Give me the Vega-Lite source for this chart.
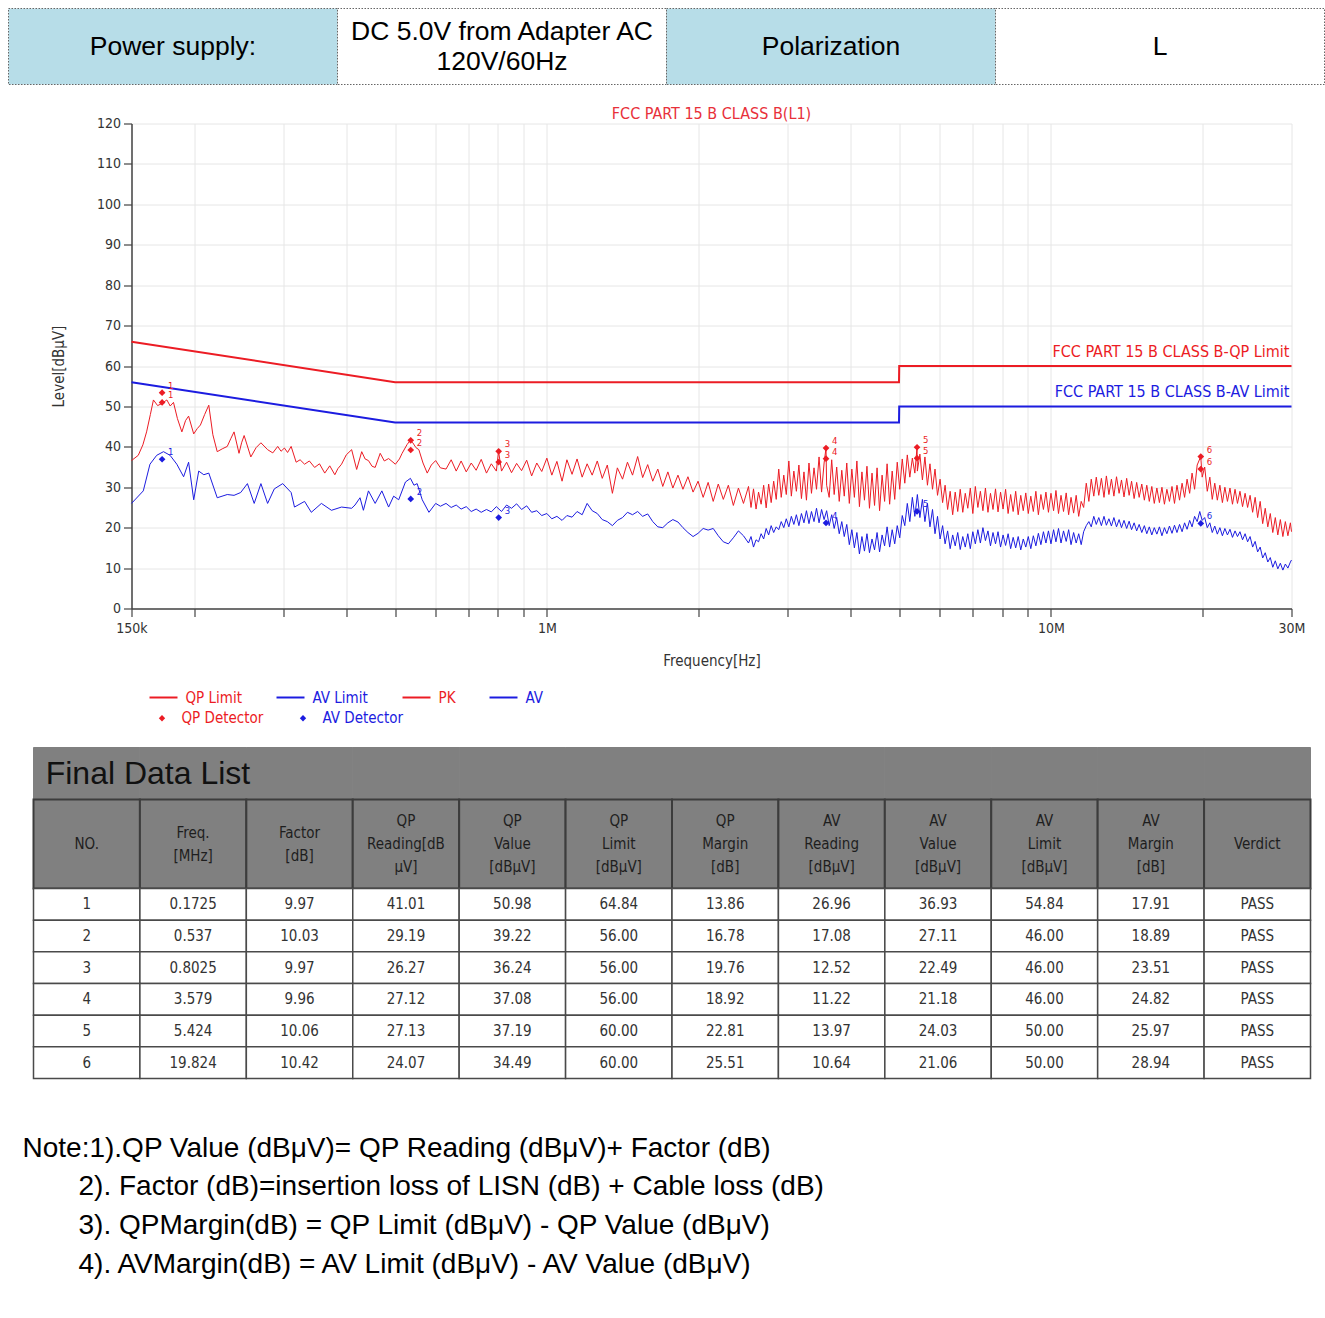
{
  "$schema": "https://vega.github.io/schema/vega-lite/v6.json",
  "padding": {"left": 7.5, "top": 7.5, "right": 0, "bottom": 0},
  "background": "white",
  "spacing": 20,
  "resolve": {"scale": {"fill": "independent", "color": "independent"}, "legend": {"fill": "independent", "color": "independent"}},
  "config": {
    "view": {"stroke": null},
    "font": "DejaVu Sans Condensed, Liberation Sans, sans-serif",
    "axis": {"labelFontSize": 14, "labelColor": "#333", "titleFontSize": 15, "titleFontWeight": "normal", "titleColor": "#333", "domainColor": "#444", "tickColor": "#444", "gridColor": "#e6e6e6", "domainWidth": 1.5, "tickWidth": 1.2}
  },
  "datasets": {
    "header": [
      {"cell": "c1", "kind": "label", "t": "Power supply:"},
      {"cell": "c2", "kind": "value", "t": "DC 5.0V from Adapter AC\n120V/60Hz"},
      {"cell": "c3", "kind": "label", "t": "Polarization"},
      {"cell": "c4", "kind": "value", "t": "L"}
    ],
    "limits": [
      {"f": 0.15, "v": 66, "s": "QP Limit"}, {"f": 0.5, "v": 56, "s": "QP Limit"}, {"f": 4.995, "v": 56, "s": "QP Limit"}, {"f": 5.0, "v": 60, "s": "QP Limit"}, {"f": 30, "v": 60, "s": "QP Limit"},
      {"f": 0.15, "v": 56, "s": "AV Limit"}, {"f": 0.5, "v": 46, "s": "AV Limit"}, {"f": 4.995, "v": 46, "s": "AV Limit"}, {"f": 5.0, "v": 50, "s": "AV Limit"}, {"f": 30, "v": 50, "s": "AV Limit"}
    ],
    "limitLabels": [
      {"f": 30, "v": 60, "s": "QP Limit", "t": "FCC PART 15 B CLASS B-QP Limit"},
      {"f": 30, "v": 50, "s": "AV Limit", "t": "FCC PART 15 B CLASS B-AV Limit"}
    ],
    "pk": [
      {"f":0.150,"v":36.6},{"f":0.1547,"v":37.9},{"f":0.158,"v":40.5},{"f":0.1607,"v":43.7},{"f":0.1635,"v":48.0},{"f":0.1658,"v":51.6},{"f":0.169,"v":50.2},{"f":0.1722,"v":50.7},{"f":0.1763,"v":51.6},{"f":0.179,"v":50.1},{"f":0.1817,"v":51.0},{"f":0.185,"v":47.0},{"f":0.1888,"v":43.7},{"f":0.192,"v":46.5},{"f":0.1947,"v":47.6},{"f":0.1993,"v":43.2},{"f":0.2025,"v":44.5},{"f":0.2055,"v":45.4},{"f":0.2095,"v":48.0},{"f":0.2135,"v":50.3},{"f":0.2175,"v":43.0},{"f":0.2219,"v":38.8},{"f":0.227,"v":39.5},{"f":0.2323,"v":40.1},{"f":0.236,"v":42.0},{"f":0.2396,"v":43.7},{"f":0.2451,"v":38.4},{"f":0.248,"v":41.0},{"f":0.2509,"v":42.8},{"f":0.2587,"v":37.5},{"f":0.265,"v":39.8},{"f":0.2709,"v":41.0},{"f":0.2793,"v":39.3},{"f":0.286,"v":38.5},{"f":0.2925,"v":40.1},{"f":0.297,"v":38.9},{"f":0.3016,"v":39.7},{"f":0.306,"v":38.6},{"f":0.311,"v":40.1},{"f":0.3182,"v":36.2},{"f":0.324,"v":36.8},{"f":0.3307,"v":35.7},{"f":0.338,"v":36.5},{"f":0.3462,"v":34.9},{"f":0.354,"v":35.8},{"f":0.3626,"v":33.5},{"f":0.371,"v":35.3},{"f":0.3797,"v":33.1},{"f":0.385,"v":34.6},{"f":0.3915,"v":35.7},{"f":0.4,"v":38.0},{"f":0.41,"v":39.3},{"f":0.4195,"v":34.4},{"f":0.4293,"v":38.8},{"f":0.436,"v":37.0},{"f":0.4427,"v":36.6},{"f":0.45,"v":35.2},{"f":0.4565,"v":34.9},{"f":0.4671,"v":38.4},{"f":0.476,"v":36.5},{"f":0.4854,"v":37.1},{"f":0.5007,"v":35.7},{"f":0.51,"v":37.0},{"f":0.5163,"v":38.4},{"f":0.5283,"v":40.6},{"f":0.536,"v":41.6},{"f":0.5421,"v":41.0},{"f":0.55,"v":39.8},{"f":0.5573,"v":39.3},{"f":0.568,"v":36.0},{"f":0.5791,"v":33.5},{"f":0.59,"v":35.5},{"f":0.6018,"v":36.6},{"f":0.615,"v":34.8},
      {"f":0.631,"v":34.5},{"f":0.646,"v":36.8},{"f":0.661,"v":34.0},{"f":0.676,"v":36.5},{"f":0.692,"v":33.8},{"f":0.708,"v":36.0},{"f":0.724,"v":34.2},{"f":0.741,"v":36.9},{"f":0.759,"v":33.5},{"f":0.776,"v":35.8},{"f":0.794,"v":34.0},{"f":0.802,"v":38.9},{"f":0.813,"v":34.0},{"f":0.832,"v":36.2},{"f":0.851,"v":33.6},{"f":0.871,"v":35.9},{"f":0.891,"v":34.1},{"f":0.912,"v":36.7},{"f":0.933,"v":32.8},{"f":0.955,"v":36.0},{"f":0.977,"v":33.9},
      {"f":1.000,"v":37.2},{"f":1.023,"v":33.0},{"f":1.047,"v":36.4},{"f":1.072,"v":31.5},{"f":1.096,"v":36.8},{"f":1.122,"v":33.2},{"f":1.148,"v":37.0},{"f":1.175,"v":32.5},{"f":1.202,"v":35.8},{"f":1.230,"v":33.0},{"f":1.259,"v":36.5},{"f":1.288,"v":32.2},{"f":1.318,"v":35.5},{"f":1.349,"v":28.5},{"f":1.380,"v":34.8},{"f":1.413,"v":32.0},{"f":1.445,"v":36.2},{"f":1.479,"v":33.0},{"f":1.514,"v":37.6},{"f":1.549,"v":32.4},{"f":1.585,"v":35.6},{"f":1.622,"v":31.5},{"f":1.660,"v":34.5},{"f":1.698,"v":30.2},{"f":1.738,"v":33.8},{"f":1.778,"v":29.8},{"f":1.820,"v":33.0},{"f":1.862,"v":29.5},{"f":1.905,"v":32.6},{"f":1.950,"v":28.8},{"f":1.995,"v":31.5},
      {"f":2.042,"v":27.5},{"f":2.089,"v":31.2},{"f":2.138,"v":26.5},{"f":2.188,"v":30.8},{"f":2.239,"v":27.0},{"f":2.291,"v":30.5},{"f":2.344,"v":25.5},{"f":2.399,"v":29.8},{"f":2.455,"v":26.0},
      {"f":2.512,"v":30.2},{"f":2.541,"v":25.0},{"f":2.570,"v":29.6},{"f":2.600,"v":24.6},{"f":2.630,"v":28.8},{"f":2.661,"v":25.8},{"f":2.692,"v":30.5},{"f":2.723,"v":24.9},{"f":2.754,"v":30.8},{"f":2.786,"v":26.2},{"f":2.818,"v":31.5},{"f":2.851,"v":27.0},{"f":2.884,"v":34.5},{"f":2.917,"v":27.5},{"f":2.951,"v":33.0},{"f":2.985,"v":28.2},
      {"f":3.020,"v":36.5},{"f":3.055,"v":27.8},{"f":3.090,"v":34.0},{"f":3.126,"v":29.0},{"f":3.162,"v":35.5},{"f":3.199,"v":27.2},{"f":3.236,"v":33.8},{"f":3.273,"v":26.8},{"f":3.311,"v":36.0},{"f":3.349,"v":28.5},{"f":3.388,"v":34.8},{"f":3.427,"v":29.5},{"f":3.467,"v":37.5},{"f":3.507,"v":28.8},{"f":3.548,"v":36.0},{"f":3.579,"v":39.7},{"f":3.589,"v":30.5},{"f":3.631,"v":27.5},{"f":3.673,"v":36.8},{"f":3.715,"v":28.2},{"f":3.758,"v":35.0},{"f":3.802,"v":26.5},{"f":3.846,"v":34.2},{"f":3.890,"v":27.8},{"f":3.935,"v":36.0},{"f":3.981,"v":26.0},
      {"f":4.027,"v":34.5},{"f":4.074,"v":27.5},{"f":4.121,"v":36.5},{"f":4.169,"v":25.2},{"f":4.217,"v":33.8},{"f":4.266,"v":26.8},{"f":4.315,"v":35.2},{"f":4.365,"v":24.8},{"f":4.416,"v":33.5},{"f":4.467,"v":25.5},{"f":4.519,"v":34.8},{"f":4.571,"v":24.2},{"f":4.624,"v":33.0},{"f":4.677,"v":26.5},{"f":4.731,"v":35.8},{"f":4.786,"v":25.8},{"f":4.842,"v":34.0},{"f":4.898,"v":27.0},{"f":4.955,"v":36.2},
      {"f":5.012,"v":29.5},{"f":5.070,"v":37.0},{"f":5.129,"v":31.0},{"f":5.188,"v":38.0},{"f":5.248,"v":32.5},{"f":5.309,"v":37.2},{"f":5.370,"v":33.5},{"f":5.424,"v":39.9},{"f":5.432,"v":34.0},{"f":5.495,"v":38.2},{"f":5.559,"v":31.8},{"f":5.623,"v":37.5},{"f":5.688,"v":30.5},{"f":5.754,"v":35.8},{"f":5.821,"v":29.5},{"f":5.888,"v":34.5},{"f":5.956,"v":28.0},
      {"f":6.026,"v":32.0},{"f":6.096,"v":26.2},{"f":6.166,"v":30.5},{"f":6.237,"v":24.5},{"f":6.310,"v":29.0},{"f":6.383,"v":23.2},{"f":6.457,"v":28.8},{"f":6.532,"v":24.0},{"f":6.607,"v":29.5},{"f":6.684,"v":23.8},{"f":6.761,"v":28.5},{"f":6.839,"v":24.8},{"f":6.918,"v":29.8},{"f":6.998,"v":23.5},
      {"f":7.079,"v":30.2},{"f":7.161,"v":25.0},{"f":7.244,"v":29.0},{"f":7.328,"v":24.2},{"f":7.413,"v":29.8},{"f":7.499,"v":23.8},{"f":7.586,"v":28.5},{"f":7.674,"v":24.5},{"f":7.762,"v":29.6},{"f":7.852,"v":23.9},{"f":7.943,"v":28.8},
      {"f":8.035,"v":24.6},{"f":8.128,"v":29.5},{"f":8.222,"v":23.5},{"f":8.318,"v":28.2},{"f":8.414,"v":24.0},{"f":8.511,"v":29.0},{"f":8.610,"v":23.2},{"f":8.711,"v":28.0},{"f":8.811,"v":24.2},{"f":8.913,"v":28.6},
      {"f":9.016,"v":23.5},{"f":9.120,"v":27.8},{"f":9.226,"v":24.0},{"f":9.333,"v":29.0},{"f":9.441,"v":23.2},{"f":9.550,"v":28.2},{"f":9.661,"v":24.5},{"f":9.772,"v":28.8},{"f":9.885,"v":23.8},
      {"f":10.00,"v":28.5},{"f":10.12,"v":24.2},{"f":10.23,"v":29.2},{"f":10.35,"v":23.5},{"f":10.47,"v":28.0},{"f":10.59,"v":24.0},{"f":10.72,"v":28.6},{"f":10.84,"v":23.2},{"f":10.96,"v":27.5},{"f":11.09,"v":23.6},{"f":11.22,"v":28.0},{"f":11.35,"v":22.8},{"f":11.48,"v":26.5},{"f":11.61,"v":25.0},{"f":11.75,"v":31.0},{"f":11.89,"v":26.5},
      {"f":12.02,"v":32.0},{"f":12.16,"v":27.8},{"f":12.30,"v":32.5},{"f":12.44,"v":28.0},{"f":12.59,"v":32.2},{"f":12.74,"v":27.5},{"f":12.88,"v":32.8},{"f":13.03,"v":28.2},{"f":13.18,"v":32.0},{"f":13.33,"v":27.8},{"f":13.49,"v":32.6},{"f":13.65,"v":28.5},{"f":13.80,"v":31.8},{"f":13.96,"v":27.6},
      {"f":14.13,"v":32.2},{"f":14.29,"v":28.0},{"f":14.45,"v":31.5},{"f":14.62,"v":27.2},{"f":14.79,"v":31.2},{"f":14.96,"v":27.5},{"f":15.14,"v":30.8},{"f":15.32,"v":26.8},{"f":15.49,"v":30.5},{"f":15.67,"v":26.5},{"f":15.85,"v":30.2},{"f":16.03,"v":26.0},
      {"f":16.22,"v":29.8},{"f":16.41,"v":26.2},{"f":16.60,"v":30.0},{"f":16.79,"v":25.8},{"f":16.98,"v":29.5},{"f":17.18,"v":26.5},{"f":17.38,"v":30.2},{"f":17.58,"v":26.0},{"f":17.78,"v":30.5},{"f":17.99,"v":26.8},{"f":18.20,"v":31.0},{"f":18.41,"v":27.5},{"f":18.62,"v":32.0},{"f":18.84,"v":28.5},
      {"f":19.05,"v":33.5},{"f":19.27,"v":29.5},{"f":19.50,"v":35.5},{"f":19.82,"v":37.6},{"f":19.95,"v":32.5},{"f":20.18,"v":35.0},{"f":20.42,"v":29.0},{"f":20.66,"v":32.5},{"f":20.89,"v":27.0},{"f":21.13,"v":31.0},{"f":21.38,"v":26.8},{"f":21.63,"v":30.5},{"f":21.88,"v":26.2},
      {"f":22.13,"v":30.0},{"f":22.39,"v":26.5},{"f":22.65,"v":29.8},{"f":22.91,"v":25.8},{"f":23.18,"v":29.5},{"f":23.44,"v":26.0},{"f":23.71,"v":29.0},{"f":23.99,"v":25.2},{"f":24.27,"v":28.5},{"f":24.55,"v":25.0},{"f":24.83,"v":28.0},
      {"f":25.12,"v":23.8},{"f":25.41,"v":27.5},{"f":25.70,"v":22.5},{"f":26.00,"v":26.5},{"f":26.30,"v":21.0},{"f":26.61,"v":24.8},{"f":26.92,"v":20.2},{"f":27.23,"v":23.5},{"f":27.54,"v":18.8},{"f":27.86,"v":22.5},{"f":28.18,"v":18.2},{"f":28.51,"v":22.0},{"f":28.84,"v":17.8},{"f":29.17,"v":21.5},{"f":29.51,"v":18.0},{"f":29.85,"v":21.2},{"f":30.0,"v":19.0}
    ],
    "av": [
      {"f":0.150,"v":26.0},{"f":0.1583,"v":29.1},{"f":0.1632,"v":35.7},{"f":0.1683,"v":37.9},{"f":0.1736,"v":38.8},{"f":0.1789,"v":37.9},{"f":0.1845,"v":35.7},{"f":0.1903,"v":32.6},{"f":0.1947,"v":36.2},{"f":0.1993,"v":26.9},{"f":0.2039,"v":34.0},{"f":0.2087,"v":33.1},{"f":0.2135,"v":33.5},{"f":0.2219,"v":27.4},{"f":0.2323,"v":28.2},{"f":0.2396,"v":28.0},{"f":0.247,"v":28.7},{"f":0.2547,"v":30.9},{"f":0.2627,"v":26.0},{"f":0.2709,"v":30.9},{"f":0.2793,"v":26.0},{"f":0.288,"v":29.6},{"f":0.2993,"v":30.9},{"f":0.311,"v":28.7},{"f":0.3158,"v":25.1},{"f":0.3307,"v":26.5},{"f":0.341,"v":23.8},{"f":0.3571,"v":26.0},{"f":0.3739,"v":24.3},{"f":0.3915,"v":25.1},{"f":0.41,"v":24.8},{"f":0.4163,"v":25.6},{"f":0.426,"v":27.4},{"f":0.4326,"v":24.3},{"f":0.4427,"v":29.1},{"f":0.4565,"v":26.0},{"f":0.4707,"v":29.1},{"f":0.4854,"v":25.1},{"f":0.4967,"v":27.8},{"f":0.5083,"v":26.9},{"f":0.5242,"v":31.3},{"f":0.5363,"v":32.2},{"f":0.545,"v":30.5},{"f":0.553,"v":30.9},{"f":0.566,"v":26.9},{"f":0.5836,"v":23.8},{"f":0.6018,"v":26.0},{"f":0.615,"v":25.3},
      {"f":0.631,"v":26.0},{"f":0.646,"v":25.0},{"f":0.661,"v":25.6},{"f":0.676,"v":24.6},{"f":0.692,"v":25.2},{"f":0.708,"v":24.0},{"f":0.724,"v":24.6},{"f":0.741,"v":23.8},{"f":0.759,"v":24.5},{"f":0.776,"v":23.9},{"f":0.794,"v":25.2},{"f":0.813,"v":24.0},{"f":0.832,"v":25.6},{"f":0.851,"v":24.8},{"f":0.871,"v":25.9},{"f":0.891,"v":24.5},{"f":0.912,"v":25.4},{"f":0.933,"v":23.8},{"f":0.955,"v":24.2},{"f":0.977,"v":23.0},
      {"f":1.000,"v":23.5},{"f":1.023,"v":22.2},{"f":1.047,"v":22.8},{"f":1.072,"v":21.8},{"f":1.096,"v":23.0},{"f":1.122,"v":22.6},{"f":1.148,"v":24.0},{"f":1.175,"v":23.2},{"f":1.202,"v":26.0},{"f":1.230,"v":24.2},{"f":1.259,"v":23.5},{"f":1.288,"v":22.0},{"f":1.318,"v":21.5},{"f":1.349,"v":20.5},{"f":1.380,"v":21.8},{"f":1.413,"v":22.5},{"f":1.445,"v":23.8},{"f":1.479,"v":23.2},{"f":1.514,"v":24.0},{"f":1.549,"v":22.8},{"f":1.585,"v":23.4},{"f":1.622,"v":21.5},{"f":1.660,"v":20.2},{"f":1.698,"v":20.0},{"f":1.738,"v":21.2},{"f":1.778,"v":22.0},{"f":1.820,"v":21.4},{"f":1.862,"v":20.0},{"f":1.905,"v":18.8},{"f":1.950,"v":17.8},{"f":1.995,"v":18.6},
      {"f":2.042,"v":19.8},{"f":2.089,"v":19.4},{"f":2.138,"v":19.8},{"f":2.188,"v":18.0},{"f":2.239,"v":16.5},{"f":2.291,"v":16.0},{"f":2.344,"v":17.5},{"f":2.399,"v":19.2},{"f":2.455,"v":18.0},
      {"f":2.512,"v":16.2},{"f":2.541,"v":17.8},{"f":2.570,"v":15.2},{"f":2.600,"v":17.0},{"f":2.630,"v":16.5},{"f":2.661,"v":18.5},{"f":2.692,"v":17.2},{"f":2.723,"v":19.8},{"f":2.754,"v":18.2},{"f":2.786,"v":20.5},{"f":2.818,"v":18.8},{"f":2.851,"v":20.2},{"f":2.884,"v":19.5},{"f":2.917,"v":21.5},{"f":2.951,"v":20.0},{"f":2.985,"v":22.2},
      {"f":3.020,"v":20.2},{"f":3.055,"v":22.8},{"f":3.090,"v":20.8},{"f":3.126,"v":23.2},{"f":3.162,"v":20.5},{"f":3.199,"v":23.5},{"f":3.236,"v":21.2},{"f":3.273,"v":24.2},{"f":3.311,"v":21.0},{"f":3.349,"v":24.0},{"f":3.388,"v":21.5},{"f":3.427,"v":24.8},{"f":3.467,"v":21.2},{"f":3.507,"v":24.5},{"f":3.548,"v":22.0},{"f":3.589,"v":24.2},{"f":3.631,"v":20.5},{"f":3.673,"v":23.2},{"f":3.715,"v":19.8},{"f":3.758,"v":22.5},{"f":3.802,"v":18.5},{"f":3.846,"v":21.5},{"f":3.890,"v":17.8},{"f":3.935,"v":20.8},{"f":3.981,"v":15.8},
      {"f":4.027,"v":19.5},{"f":4.074,"v":15.0},{"f":4.121,"v":18.8},{"f":4.169,"v":13.5},{"f":4.217,"v":17.8},{"f":4.266,"v":14.2},{"f":4.315,"v":18.5},{"f":4.365,"v":13.8},{"f":4.416,"v":17.2},{"f":4.467,"v":14.5},{"f":4.519,"v":18.8},{"f":4.571,"v":14.0},{"f":4.624,"v":18.2},{"f":4.677,"v":15.5},{"f":4.731,"v":20.2},{"f":4.786,"v":15.2},{"f":4.842,"v":19.5},{"f":4.898,"v":16.0},{"f":4.955,"v":20.5},
      {"f":5.012,"v":17.5},{"f":5.070,"v":23.0},{"f":5.129,"v":20.5},{"f":5.188,"v":26.0},{"f":5.248,"v":21.5},{"f":5.309,"v":27.5},{"f":5.370,"v":22.8},{"f":5.432,"v":28.2},{"f":5.495,"v":22.5},{"f":5.559,"v":27.0},{"f":5.623,"v":21.5},{"f":5.688,"v":26.0},{"f":5.754,"v":20.2},{"f":5.821,"v":24.5},{"f":5.888,"v":18.5},{"f":5.956,"v":22.8},
      {"f":6.026,"v":17.2},{"f":6.096,"v":20.5},{"f":6.166,"v":16.0},{"f":6.237,"v":19.2},{"f":6.310,"v":14.8},{"f":6.383,"v":18.2},{"f":6.457,"v":15.5},{"f":6.532,"v":18.8},{"f":6.607,"v":14.6},{"f":6.684,"v":17.8},{"f":6.761,"v":15.2},{"f":6.839,"v":18.5},{"f":6.918,"v":14.8},{"f":6.998,"v":19.0},
      {"f":7.079,"v":16.0},{"f":7.161,"v":19.5},{"f":7.244,"v":16.2},{"f":7.328,"v":20.0},{"f":7.413,"v":16.8},{"f":7.499,"v":19.2},{"f":7.586,"v":15.5},{"f":7.674,"v":18.8},{"f":7.762,"v":16.0},{"f":7.852,"v":19.0},{"f":7.943,"v":15.2},
      {"f":8.035,"v":18.2},{"f":8.128,"v":15.6},{"f":8.222,"v":18.5},{"f":8.318,"v":14.8},{"f":8.414,"v":17.6},{"f":8.511,"v":15.0},{"f":8.610,"v":17.8},{"f":8.711,"v":14.5},{"f":8.811,"v":17.2},{"f":8.913,"v":15.2},
      {"f":9.016,"v":17.8},{"f":9.120,"v":14.8},{"f":9.226,"v":18.0},{"f":9.333,"v":15.5},{"f":9.441,"v":18.6},{"f":9.550,"v":15.8},{"f":9.661,"v":19.0},{"f":9.772,"v":16.2},{"f":9.885,"v":19.2},
      {"f":10.00,"v":16.0},{"f":10.12,"v":19.5},{"f":10.23,"v":16.5},{"f":10.35,"v":19.8},{"f":10.47,"v":16.2},{"f":10.59,"v":19.2},{"f":10.72,"v":16.6},{"f":10.84,"v":19.5},{"f":10.96,"v":15.8},{"f":11.09,"v":18.8},{"f":11.22,"v":16.2},{"f":11.35,"v":18.5},{"f":11.48,"v":15.8},{"f":11.61,"v":19.0},{"f":11.75,"v":20.5},{"f":11.89,"v":21.5},
      {"f":12.02,"v":20.2},{"f":12.16,"v":22.8},{"f":12.30,"v":20.8},{"f":12.44,"v":22.5},{"f":12.59,"v":20.5},{"f":12.74,"v":22.8},{"f":12.88,"v":20.6},{"f":13.03,"v":22.2},{"f":13.18,"v":20.4},{"f":13.33,"v":22.5},{"f":13.49,"v":20.2},{"f":13.65,"v":22.0},{"f":13.80,"v":20.0},{"f":13.96,"v":21.8},
      {"f":14.13,"v":19.8},{"f":14.29,"v":21.6},{"f":14.45,"v":19.5},{"f":14.62,"v":21.2},{"f":14.79,"v":19.2},{"f":14.96,"v":20.8},{"f":15.14,"v":18.8},{"f":15.32,"v":20.5},{"f":15.49,"v":18.5},{"f":15.67,"v":20.2},{"f":15.85,"v":18.2},{"f":16.03,"v":20.0},
      {"f":16.22,"v":18.4},{"f":16.41,"v":20.2},{"f":16.60,"v":18.0},{"f":16.79,"v":20.0},{"f":16.98,"v":18.5},{"f":17.18,"v":20.4},{"f":17.38,"v":18.6},{"f":17.58,"v":20.6},{"f":17.78,"v":18.8},{"f":17.99,"v":20.8},{"f":18.20,"v":19.0},{"f":18.41,"v":21.2},{"f":18.62,"v":19.6},{"f":18.84,"v":21.8},
      {"f":19.05,"v":20.2},{"f":19.27,"v":22.8},{"f":19.50,"v":21.5},{"f":19.73,"v":24.0},{"f":19.95,"v":21.8},{"f":20.18,"v":22.5},{"f":20.42,"v":20.0},{"f":20.66,"v":21.2},{"f":20.89,"v":18.8},{"f":21.13,"v":20.4},{"f":21.38,"v":18.4},{"f":21.63,"v":20.0},{"f":21.88,"v":18.0},
      {"f":22.13,"v":19.8},{"f":22.39,"v":18.2},{"f":22.65,"v":19.6},{"f":22.91,"v":17.6},{"f":23.18,"v":19.2},{"f":23.44,"v":17.8},{"f":23.71,"v":19.0},{"f":23.99,"v":17.0},{"f":24.27,"v":18.5},{"f":24.55,"v":16.5},{"f":24.83,"v":17.8},
      {"f":25.12,"v":15.2},{"f":25.41,"v":16.6},{"f":25.70,"v":14.0},{"f":26.00,"v":15.2},{"f":26.30,"v":12.5},{"f":26.61,"v":13.8},{"f":26.92,"v":11.5},{"f":27.23,"v":12.6},{"f":27.54,"v":10.2},{"f":27.86,"v":11.8},{"f":28.18,"v":9.8},{"f":28.51,"v":11.2},{"f":28.84,"v":9.5},{"f":29.17,"v":11.0},{"f":29.51,"v":10.0},{"f":29.85,"v":11.5},{"f":30.0,"v":12.0}
    ],
    "det": [
      {"f": 0.1725, "v": 53.4, "s": "QP Detector", "n": "1"},
      {"f": 0.1725, "v": 50.98, "s": "QP Detector", "n": "1"},
      {"f": 0.537, "v": 41.6, "s": "QP Detector", "n": "2"},
      {"f": 0.537, "v": 39.22, "s": "QP Detector", "n": "2"},
      {"f": 0.8025, "v": 38.9, "s": "QP Detector", "n": "3"},
      {"f": 0.8025, "v": 36.24, "s": "QP Detector", "n": "3"},
      {"f": 3.579, "v": 39.7, "s": "QP Detector", "n": "4"},
      {"f": 3.579, "v": 37.08, "s": "QP Detector", "n": "4"},
      {"f": 5.424, "v": 39.9, "s": "QP Detector", "n": "5"},
      {"f": 5.424, "v": 37.19, "s": "QP Detector", "n": "5"},
      {"f": 19.824, "v": 37.6, "s": "QP Detector", "n": "6"},
      {"f": 19.824, "v": 34.49, "s": "QP Detector", "n": "6"},
      {"f": 0.1725, "v": 36.93, "s": "AV Detector", "n": "1"},
      {"f": 0.537, "v": 27.11, "s": "AV Detector", "n": "2"},
      {"f": 0.8025, "v": 22.49, "s": "AV Detector", "n": "3"},
      {"f": 3.579, "v": 21.18, "s": "AV Detector", "n": "4"},
      {"f": 5.424, "v": 24.03, "s": "AV Detector", "n": "5"},
      {"f": 19.824, "v": 21.06, "s": "AV Detector", "n": "6"}
    ],
    "cols": [
      {"col": "no", "label": "NO."},
      {"col": "freq", "label": "Freq.\n[MHz]"},
      {"col": "factor", "label": "Factor\n[dB]"},
      {"col": "qpr", "label": "QP\nReading[dB\nμV]"},
      {"col": "qpv", "label": "QP\nValue\n[dBμV]"},
      {"col": "qpl", "label": "QP\nLimit\n[dBμV]"},
      {"col": "qpm", "label": "QP\nMargin\n[dB]"},
      {"col": "avr", "label": "AV\nReading\n[dBμV]"},
      {"col": "avv", "label": "AV\nValue\n[dBμV]"},
      {"col": "avl", "label": "AV\nLimit\n[dBμV]"},
      {"col": "avm", "label": "AV\nMargin\n[dB]"},
      {"col": "verdict", "label": "Verdict"}
    ],
    "rows": [
      {"no": "1", "freq": "0.1725", "factor": "9.97", "qpr": "41.01", "qpv": "50.98", "qpl": "64.84", "qpm": "13.86", "avr": "26.96", "avv": "36.93", "avl": "54.84", "avm": "17.91", "verdict": "PASS"},
      {"no": "2", "freq": "0.537", "factor": "10.03", "qpr": "29.19", "qpv": "39.22", "qpl": "56.00", "qpm": "16.78", "avr": "17.08", "avv": "27.11", "avl": "46.00", "avm": "18.89", "verdict": "PASS"},
      {"no": "3", "freq": "0.8025", "factor": "9.97", "qpr": "26.27", "qpv": "36.24", "qpl": "56.00", "qpm": "19.76", "avr": "12.52", "avv": "22.49", "avl": "46.00", "avm": "23.51", "verdict": "PASS"},
      {"no": "4", "freq": "3.579", "factor": "9.96", "qpr": "27.12", "qpv": "37.08", "qpl": "56.00", "qpm": "18.92", "avr": "11.22", "avv": "21.18", "avl": "46.00", "avm": "24.82", "verdict": "PASS"},
      {"no": "5", "freq": "5.424", "factor": "10.06", "qpr": "27.13", "qpv": "37.19", "qpl": "60.00", "qpm": "22.81", "avr": "13.97", "avv": "24.03", "avl": "50.00", "avm": "25.97", "verdict": "PASS"},
      {"no": "6", "freq": "19.824", "factor": "10.42", "qpr": "24.07", "qpv": "34.49", "qpl": "60.00", "qpm": "25.51", "avr": "10.64", "avv": "21.06", "avl": "50.00", "avm": "28.94", "verdict": "PASS"}
    ],
    "notes": [
      {"i": 1, "lvl": "a", "t": "Note:1).QP Value (dBμV)= QP Reading (dBμV)+ Factor (dB)"},
      {"i": 2, "lvl": "b", "t": "2). Factor (dB)=insertion loss of LISN (dB) + Cable loss (dB)"},
      {"i": 3, "lvl": "b", "t": "3). QPMargin(dB) = QP Limit (dBμV) - QP Value (dBμV)"},
      {"i": 4, "lvl": "b", "t": "4). AVMargin(dB) = AV Limit (dBμV) - AV Value (dBμV)"}
    ]
  },
  "vconcat": [
    {
      "width": 1160, "height": 76,
      "data": {"name": "header"},
      "encoding": {
        "x": {"field": "cell", "type": "nominal", "sort": null, "axis": null,
              "scale": {"domain": ["c1", "c2", "c3", "c4"], "range": [-123, 1193], "paddingInner": 0, "paddingOuter": 0}}
      },
      "layer": [
        {"mark": {"type": "rect", "stroke": "#666", "strokeDash": [1.5, 1.5], "strokeWidth": 1},
         "encoding": {"fill": {"field": "kind", "type": "nominal", "legend": null, "scale": {"domain": ["label", "value"], "range": ["#b7dde8", "#ffffff"]}}}},
        {"transform": [{"filter": "indexof(datum.t, '\\n') < 0"}],
         "mark": {"type": "text", "font": "Liberation Sans, sans-serif", "fontSize": 26.5, "color": "#000", "baseline": "middle"},
         "encoding": {"text": {"field": "t"}}},
        {"transform": [{"filter": "indexof(datum.t, '\\n') >= 0"}],
         "mark": {"type": "text", "font": "Liberation Sans, sans-serif", "fontSize": 26.5, "lineBreak": "\n", "lineHeight": 30, "dy": -15, "color": "#000", "baseline": "middle"},
         "encoding": {"text": {"field": "t"}}}
      ]
    },
    {
      "width": 1160, "height": 485,
      "title": {"text": "FCC PART 15 B CLASS B(L1)", "color": "#e8303a", "fontSize": 16, "fontWeight": "normal", "anchor": "middle", "offset": -5},
      "encoding": {
        "x": {"field": "f", "type": "quantitative", "title": "Frequency[Hz]",
              "scale": {"type": "log", "domain": [0.15, 30], "nice": false},
              "axis": {"values": [0.15, 0.2, 0.3, 0.4, 0.5, 0.6, 0.7, 0.8, 0.9, 1, 2, 3, 4, 5, 6, 7, 8, 9, 10, 20, 30],
                       "labelExpr": "datum.value == 0.15 ? '150k' : datum.value == 1 ? '1M' : datum.value == 10 ? '10M' : datum.value == 30 ? '30M' : ''",
                       "grid": true, "tickSize": 8, "labelPadding": 5, "labelFlush": false, "labelOverlap": false, "titlePadding": 18}},
        "y": {"field": "v", "type": "quantitative", "title": "Level[dBμV]",
              "scale": {"domain": [0, 120], "nice": false},
              "axis": {"values": [0, 10, 20, 30, 40, 50, 60, 70, 80, 90, 100, 110, 120], "grid": true, "tickSize": 8, "labelPadding": 3, "titlePadding": 30}}
      },
      "layer": [
        {"data": {"name": "limits"}, "mark": {"type": "line", "strokeWidth": 2},
         "encoding": {"color": {"field": "s", "type": "nominal",
                  "scale": {"domain": ["QP Limit", "AV Limit", "PK", "AV"], "range": ["#ec1c24", "#1c1ce0", "#ec1c24", "#1c1ce0"]},
                  "legend": {"orient": "none", "legendX": 17, "legendY": 559, "columns": 4, "direction": "horizontal", "title": null,
                             "labelFontSize": 15, "labelOffset": 7, "symbolSize": 784, "symbolType": "stroke", "symbolStrokeWidth": 2,
                             "columnPadding": 30,
                             "labelColor": {"expr": "(datum.value == 'QP Limit' || datum.value == 'PK') ? '#ec1c24' : '#1c1ce0'"}}}}},
        {"data": {"name": "pk"}, "mark": {"type": "line", "strokeWidth": 1}, "encoding": {"color": {"datum": "PK"}}},
        {"data": {"name": "av"}, "mark": {"type": "line", "strokeWidth": 1}, "encoding": {"color": {"datum": "AV"}}},
        {"data": {"name": "limitLabels"}, "mark": {"type": "text", "align": "right", "baseline": "bottom", "dx": -2, "dy": -6, "fontSize": 16},
         "encoding": {"text": {"field": "t"}, "color": {"field": "s", "type": "nominal"}}},
        {"data": {"name": "det"}, "mark": {"type": "point", "shape": "diamond", "filled": true, "size": 45, "opacity": 1, "strokeWidth": 0},
         "encoding": {"fill": {"field": "s", "type": "nominal",
                  "scale": {"domain": ["QP Detector", "AV Detector"], "range": ["#ec1c24", "#1c1ce0"]},
                  "legend": {"orient": "none", "legendX": 23, "legendY": 587, "columns": 2, "direction": "horizontal", "title": null,
                             "labelFontSize": 15, "labelOffset": 12, "symbolSize": 40, "symbolType": "diamond",
                             "columnPadding": 32,
                             "labelColor": {"expr": "datum.value == 'QP Detector' ? '#ec1c24' : '#1c1ce0'"}}}}},
        {"data": {"name": "det"}, "mark": {"type": "text", "align": "left", "baseline": "middle", "dx": 6, "dy": -7, "fontSize": 9.5},
         "encoding": {"text": {"field": "n"}, "fill": {"field": "s", "type": "nominal"}}}
      ]
    },
    {
      "spacing": 0,
      "bounds": "flush",
      "vconcat": [
        {
          "width": 1160, "height": 52,
          "encoding": {
            "x": {"field": "col", "type": "nominal", "sort": null, "axis": null,
                  "scale": {"domain": ["no", "freq", "factor", "qpr", "qpv", "qpl", "qpm", "avr", "avv", "avl", "avm", "verdict"], "range": [-98, 1179], "paddingInner": 0, "paddingOuter": 0}}
          },
          "layer": [
            {"data": {"name": "cols"}, "mark": {"type": "rect", "fill": "#808080", "stroke": "#808080", "strokeWidth": 1}},
            {"data": {"values": [{"col": "no", "t": "Final Data List"}]},
             "mark": {"type": "text", "align": "left", "baseline": "middle", "dx": -41, "font": "Liberation Sans, sans-serif", "fontSize": 32, "color": "#111"},
             "encoding": {"text": {"field": "t"}}}
          ]
        },
        {
          "width": 1160, "height": 89,
          "data": {"name": "cols"},
          "encoding": {
            "x": {"field": "col", "type": "nominal", "sort": null, "axis": null,
                  "scale": {"domain": ["no", "freq", "factor", "qpr", "qpv", "qpl", "qpm", "avr", "avv", "avl", "avm", "verdict"], "range": [-98, 1179], "paddingInner": 0, "paddingOuter": 0}}
          },
          "layer": [
            {"mark": {"type": "rect", "fill": "#808080", "stroke": "#3c3c3c", "strokeWidth": 2}},
            {"transform": [{"filter": "length(split(datum.label, '\\n')) == 1"}],
             "mark": {"type": "text", "fontSize": 15, "color": "#1e1e1e", "baseline": "middle"},
             "encoding": {"text": {"field": "label"}}},
            {"transform": [{"filter": "length(split(datum.label, '\\n')) == 2"}],
             "mark": {"type": "text", "lineBreak": "\n", "lineHeight": 23, "dy": -11.5, "fontSize": 15, "color": "#1e1e1e", "baseline": "middle"},
             "encoding": {"text": {"field": "label"}}},
            {"transform": [{"filter": "length(split(datum.label, '\\n')) == 3"}],
             "mark": {"type": "text", "lineBreak": "\n", "lineHeight": 23, "dy": -23, "fontSize": 15, "color": "#1e1e1e", "baseline": "middle"},
             "encoding": {"text": {"field": "label"}}}
          ]
        },
        {
          "width": 1160, "height": 190,
          "data": {"name": "rows"},
          "transform": [{"fold": ["no", "freq", "factor", "qpr", "qpv", "qpl", "qpm", "avr", "avv", "avl", "avm", "verdict"], "as": ["col", "val"]}],
          "encoding": {
            "x": {"field": "col", "type": "nominal", "sort": null, "axis": null,
                  "scale": {"domain": ["no", "freq", "factor", "qpr", "qpv", "qpl", "qpm", "avr", "avv", "avl", "avm", "verdict"], "range": [-98, 1179], "paddingInner": 0, "paddingOuter": 0}},
            "y": {"field": "no", "type": "nominal", "sort": null, "axis": null,
                  "scale": {"domain": ["1", "2", "3", "4", "5", "6"], "paddingInner": 0, "paddingOuter": 0}}
          },
          "layer": [
            {"mark": {"type": "rect", "fill": "#ffffff", "stroke": "#4a4a4a", "strokeWidth": 1.5}},
            {"mark": {"type": "text", "fontSize": 15, "color": "#333", "baseline": "middle"},
             "encoding": {"text": {"field": "val"}}}
          ]
        }
      ]
    },
    {
      "width": 1160, "height": 190,
      "data": {"name": "notes"},
      "mark": {"type": "text", "align": "left", "baseline": "middle", "font": "Liberation Sans, sans-serif", "fontSize": 28, "color": "#000"},
      "encoding": {
        "x": {"field": "lvl", "type": "nominal", "axis": null, "scale": {"type": "point", "domain": ["a", "b"], "range": [-109, -53], "padding": 0}},
        "y": {"field": "i", "type": "ordinal", "axis": null, "scale": {"type": "point", "domain": [1, 2, 3, 4], "range": [49, 165], "padding": 0}},
        "text": {"field": "t"}
      }
    }
  ]
}
